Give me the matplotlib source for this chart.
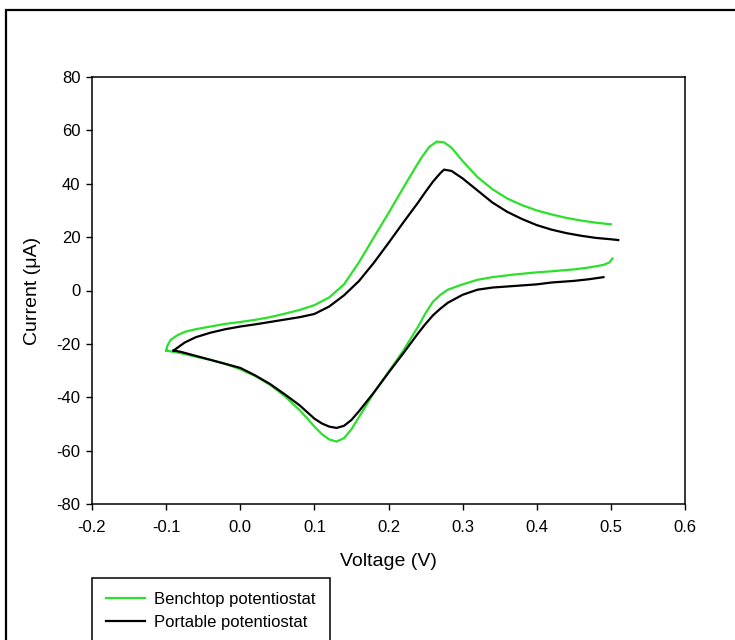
import matplotlib.pyplot as plt
import matplotlib.patches as patches
import numpy as np

# Cyclic voltammograms, benchtop vs portable potentiostat
# forward (oxidation) and reverse (reduction) sweeps kept separate

BENCH_FWD_V = [-0.100, -0.098, -0.094, -0.085, -0.075, -0.060, -0.040, -0.020, 0.000, 0.020,
               0.040, 0.060, 0.080, 0.100, 0.120, 0.140, 0.160, 0.180, 0.200, 0.220,
               0.235, 0.245, 0.255, 0.265, 0.275, 0.285, 0.300, 0.320, 0.340, 0.360,
               0.380, 0.400, 0.420, 0.440, 0.460, 0.480, 0.500]
BENCH_FWD_I = [-22.5, -20.5, -18.5, -16.8, -15.5, -14.5, -13.5, -12.5, -11.8, -11.0,
               -10.0, -8.7, -7.3, -5.5, -2.6, 2.3, 10.5, 19.8, 29.0, 38.5,
               45.5, 50.0, 53.8, 55.8, 55.5, 53.5, 48.5, 42.5, 38.0, 34.5,
               32.0, 30.0, 28.5, 27.2, 26.2, 25.4, 24.8]

BENCH_REV_V = [0.502, 0.498, 0.490, 0.470, 0.450, 0.420, 0.400, 0.370, 0.340, 0.320,
               0.300, 0.280, 0.270, 0.260, 0.250, 0.240, 0.220, 0.200, 0.180, 0.160,
               0.150, 0.140, 0.130, 0.120, 0.110, 0.100, 0.090, 0.080, 0.060, 0.040,
               0.020, 0.000, -0.020, -0.040, -0.060, -0.080, -0.100]
BENCH_REV_I = [12.0, 10.5, 9.6, 8.6, 7.9, 7.2, 6.8, 6.0, 5.0, 4.0,
               2.3, 0.3, -1.6, -4.2, -8.5, -13.5, -22.5, -30.5, -38.5, -47.5,
               -52.0, -55.3, -56.6, -55.8, -53.8, -51.0, -47.8, -44.8, -39.6, -35.3,
               -32.0, -29.5, -27.5, -26.0, -24.8, -23.5, -22.5]

PORT_FWD_V = [-0.090, -0.085, -0.075, -0.060, -0.040, -0.020, 0.000, 0.020, 0.040, 0.060,
              0.080, 0.100, 0.120, 0.140, 0.160, 0.180, 0.200, 0.220, 0.240, 0.250,
              0.260, 0.270, 0.275, 0.285, 0.300, 0.320, 0.340, 0.360, 0.380, 0.400,
              0.420, 0.440, 0.460, 0.480, 0.500, 0.510]
PORT_FWD_I = [-22.5, -21.5, -19.5, -17.5, -15.8, -14.5, -13.5, -12.7, -11.8, -10.9,
              -10.0, -8.8, -6.0, -1.8, 3.5, 10.3, 17.8, 25.5, 33.0, 37.0,
              40.8, 44.0, 45.3, 44.8, 42.0, 37.5, 33.0, 29.5, 26.8, 24.5,
              22.8, 21.5, 20.5, 19.7, 19.2, 18.9]

PORT_REV_V = [0.490, 0.470, 0.450, 0.420, 0.400, 0.370, 0.340, 0.320, 0.300, 0.280,
              0.270, 0.260, 0.250, 0.240, 0.220, 0.200, 0.180, 0.160, 0.150, 0.140,
              0.130, 0.120, 0.110, 0.100, 0.090, 0.080, 0.060, 0.040, 0.020, 0.000,
              -0.020, -0.040, -0.060, -0.080, -0.090]
PORT_REV_I = [5.0, 4.2, 3.6, 3.0, 2.3, 1.7, 1.1, 0.3, -1.6, -4.6,
              -6.8, -9.3, -12.5, -16.0, -23.5, -30.8, -38.3, -45.3, -48.5, -50.7,
              -51.5, -51.0, -49.8, -48.0, -45.5, -43.0, -38.9, -35.0, -31.8, -29.0,
              -27.5, -26.0, -24.5, -23.0, -22.5]

LABELS = ['Benchtop potentiostat', 'Portable potentiostat']
COLORS = ['#2BE02B', '#000000']

X_TICKS = np.arange(-0.2, 0.61, 0.1)
Y_TICKS = np.arange(-80, 81, 20)


def sweep(fwd_v, fwd_i, rev_v, rev_i):
    # join both sweeps, leaving a break at the switching potential
    v = np.concatenate([fwd_v, [np.nan], rev_v])
    i = np.concatenate([fwd_i, [np.nan], rev_i])
    return v, i


plt.rcParams['font.family'] = ['Liberation Sans', 'DejaVu Sans']

fig = plt.figure(figsize=(7.35, 6.4), dpi=100)
ax = fig.add_axes([92 / 735, 1 - 504 / 640, 593 / 735, 427 / 640])

v, i = sweep(BENCH_FWD_V, BENCH_FWD_I, BENCH_REV_V, BENCH_REV_I)
ax.plot(v, i, color=COLORS[0], lw=1.6, label=LABELS[0], solid_joinstyle='round')
v, i = sweep(PORT_FWD_V, PORT_FWD_I, PORT_REV_V, PORT_REV_I)
ax.plot(v, i, color=COLORS[1], lw=1.6, label=LABELS[1], solid_joinstyle='round')

ax.set_xlim(-0.2, 0.6)
ax.set_ylim(-80, 80)
ax.set_xticks(X_TICKS)
ax.set_xticklabels(['%.1f' % t for t in X_TICKS])
ax.set_yticks(Y_TICKS)
ax.set_yticklabels(['%d' % t for t in Y_TICKS])
ax.tick_params(direction='out', length=4.3, width=1, labelsize=12,
               top=False, right=False)
ax.tick_params(axis='x', pad=7)
ax.tick_params(axis='y', pad=4)
for s in ax.spines.values():
    s.set_linewidth(1.1)

ax.set_xlabel('Voltage (V)', fontsize=14, labelpad=13)
ax.set_ylabel('Current (\u03bcA)', fontsize=14, labelpad=11)

leg = ax.legend(loc='upper left', bbox_to_anchor=(92 / 735, 1 - 578 / 640),
                bbox_transform=fig.transFigure, fontsize=12, frameon=True,
                fancybox=False, framealpha=1, edgecolor='black',
                handlelength=2.3, handletextpad=0.6, borderpad=0.85,
                labelspacing=0.45, borderaxespad=0)
leg.get_frame().set_linewidth(1.1)

# outer frame around the whole figure
fig.patches.append(patches.Rectangle((6 / 735, -0.2), 1.2, 1.2 - 10 / 640,
                                     transform=fig.transFigure, fill=False,
                                     edgecolor='black', lw=1.6))

fig.savefig('out.png', dpi=100)
